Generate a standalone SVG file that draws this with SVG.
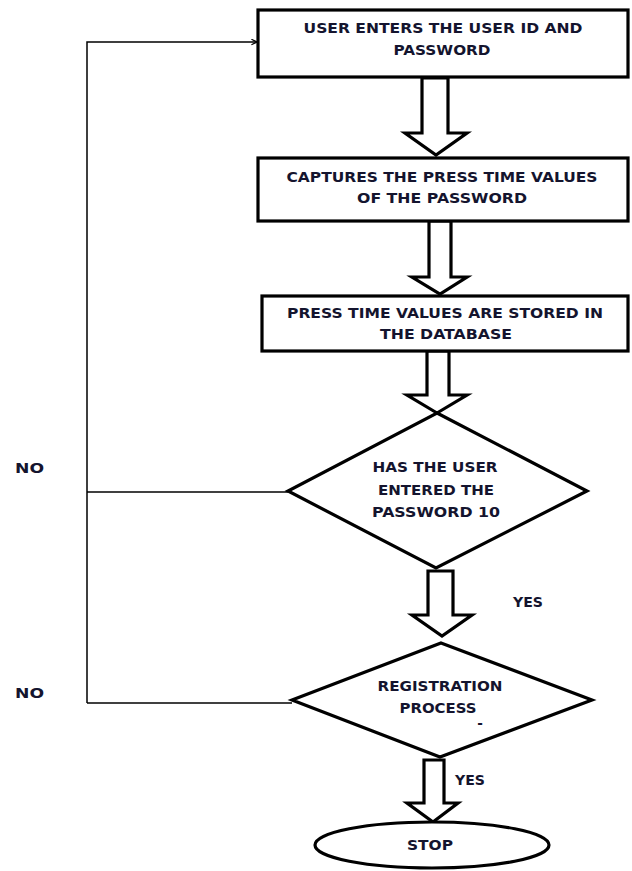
<svg xmlns="http://www.w3.org/2000/svg" width="632" height="871" viewBox="0 0 632 871">
<defs>
<marker id="open" viewBox="0 0 10 10" refX="9" refY="5" markerWidth="7" markerHeight="7" markerUnits="userSpaceOnUse" orient="auto">
<path d="M1,1 L9,5 L1,9" fill="none" stroke="#000" stroke-width="1.6"/>
</marker>
</defs>
<style>
.shape{fill:#fff;stroke:#000;stroke-width:3.2;stroke-linejoin:miter}
.block{fill:#fff;stroke:#000;stroke-width:3.2;stroke-linejoin:miter}
.line{fill:none;stroke:#000;stroke-width:1.5}
.t{font-family:"DejaVu Sans","Liberation Sans",sans-serif;font-weight:bold;font-size:13.5px;fill:#14142e;text-anchor:middle}
.l{font-family:"DejaVu Sans","Liberation Sans",sans-serif;font-weight:bold;font-size:13.5px;fill:#14142e;text-anchor:start}
</style>
<rect width="632" height="871" fill="#fff"/>
<g id="connectors">
<path class="line" d="M87,703 L87,42 L257,42" marker-end="url(#open)"/>
<path class="line" d="M87,492 L288,492"/>
<path class="line" d="M87,703 L292,703"/>
<polygon class="block" points="422,78 422,133 405,133 436,155 467,133 448,133 448,78"/>
<polygon class="block" points="429,221 429,277 412,277 440,294 467,277 451,277 451,221"/>
<polygon class="block" points="427,351 427,395 407,395 437,413 467,395 449,395 449,351"/>
<polygon class="block" points="428,571 428,615 412,615 442,636 472,615 453,615 453,571"/>
<polygon class="block" points="424,760 424,803 407,803 433,822 458,803 444,803 444,760"/>
</g>
<g id="n1">
<rect class="shape" x="258" y="10" width="370" height="67"/>
<text class="t" x="443" y="33" textLength="279" lengthAdjust="spacingAndGlyphs">USER ENTERS THE USER ID AND</text>
<text class="t" x="442" y="55" textLength="97" lengthAdjust="spacingAndGlyphs">PASSWORD</text>
</g>
<g id="n2">
<rect class="shape" x="258" y="158" width="370" height="63"/>
<text class="t" x="442" y="182" textLength="311" lengthAdjust="spacingAndGlyphs">CAPTURES THE PRESS TIME VALUES</text>
<text class="t" x="442" y="203" textLength="170" lengthAdjust="spacingAndGlyphs">OF THE PASSWORD</text>
</g>
<g id="n3">
<rect class="shape" x="262" y="296" width="366" height="55"/>
<text class="t" x="445" y="318" textLength="316" lengthAdjust="spacingAndGlyphs">PRESS TIME VALUES ARE STORED IN</text>
<text class="t" x="446" y="339" textLength="132" lengthAdjust="spacingAndGlyphs">THE DATABASE</text>
</g>
<g id="d1">
<polygon class="shape" points="437,413 587,491 436,568 288,491"/>
<text class="t" x="435" y="472" textLength="125" lengthAdjust="spacingAndGlyphs">HAS THE USER</text>
<text class="t" x="436" y="495" textLength="116" lengthAdjust="spacingAndGlyphs">ENTERED THE</text>
<text class="t" x="436" y="517" textLength="128" lengthAdjust="spacingAndGlyphs">PASSWORD 10</text>
</g>
<g id="d2">
<polygon class="shape" points="441,643 592,700 440,757 292,700"/>
<text class="t" x="440" y="691" textLength="125" lengthAdjust="spacingAndGlyphs">REGISTRATION</text>
<text class="t" x="438" y="713" textLength="77" lengthAdjust="spacingAndGlyphs">PROCESS</text>
<text class="t" x="480" y="728">-</text>
</g>
<g id="stop">
<ellipse class="shape" cx="432" cy="845" rx="117" ry="23"/>
<text class="t" x="430" y="850" textLength="46" lengthAdjust="spacingAndGlyphs">STOP</text>
</g>
<g id="labels">
<text class="l" x="15" y="473" textLength="29" lengthAdjust="spacingAndGlyphs">NO</text>
<text class="l" x="15" y="698" textLength="29" lengthAdjust="spacingAndGlyphs">NO</text>
<text class="l" x="513" y="607" textLength="30" lengthAdjust="spacingAndGlyphs">YES</text>
<text class="l" x="455" y="785" textLength="30" lengthAdjust="spacingAndGlyphs">YES</text>
</g>
</svg>
